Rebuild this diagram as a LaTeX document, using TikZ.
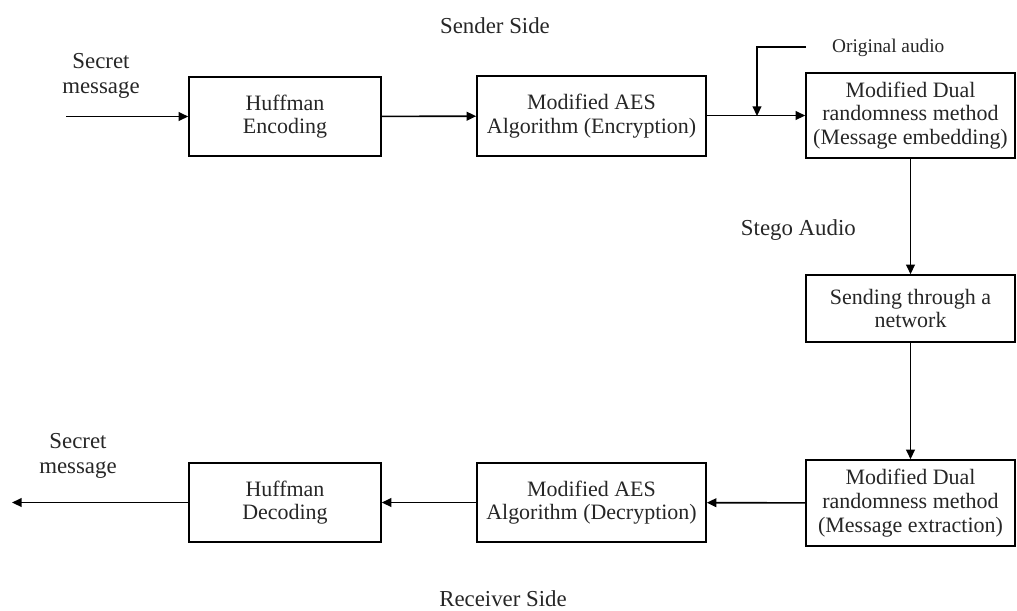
\documentclass[tikz,border=0pt]{standalone}
\usepackage{fontspec}
\setmainfont{Liberation Serif}
\usepackage{tikz}
\usetikzlibrary{arrows.meta,positioning}

\begin{document}
\begin{tikzpicture}[
x=0.02cm, y=-0.02cm,
box/.style={draw, line width=0.9pt, align=center, inner sep=1pt, font=\fontsize{12.5}{13.5}\selectfont, text=black!85},
lbl/.style={align=center, font=\fontsize{13}{14}\selectfont, text=black!85},
small/.style={font=\fontsize{11}{12}\selectfont, text=black!85},
arrow/.style={-{Triangle[length=5.5pt,width=5pt]}, line width=0.9pt}
]
\useasboundingbox (0,0) rectangle (1017,610);
% sender side
\node[box, minimum width=3.84cm, minimum height=1.58cm] (henc) at (285,116.5) {Huffman\\Encoding};
\node[box, minimum width=4.58cm, minimum height=1.6cm] (aenc) at (591.5,116) {Modified AES\\Algorithm (Encryption)};
\node[box, minimum width=4.18cm, minimum height=1.7cm] (emb) at (910.5,115.5) {Modified Dual\\randomness method\\(Message embedding)};
\node[box, minimum width=4.18cm, minimum height=1.34cm] (send) at (910.5,308.5) {Sending through a\\network};
% receiver side
\node[box, minimum width=4.18cm, minimum height=1.72cm] (ext) at (910.5,503) {Modified Dual\\randomness method\\(Message extraction)};
\node[box, minimum width=4.58cm, minimum height=1.58cm] (adec) at (591.5,502.5) {Modified AES\\Algorithm (Decryption)};
\node[box, minimum width=3.84cm, minimum height=1.58cm] (hdec) at (285,502.5) {Huffman\\Decoding};

\node[lbl] (sender) at (495,26) {Sender Side};
\node[lbl] (receiver) at (503,599) {Receiver Side};
\node[lbl] (msgin) at (101,76) {Secret\\message};
\node[lbl] (msgout) at (78,456) {Secret\\message};
\node[lbl, anchor=east] (stego) at (862,230) {Stego Audio};
\node[small, anchor=west] (orig) at (826,48) {Original audio};

\coordinate (in) at (66,116.5);
\coordinate (out) at (12,502.5);
\coordinate (oa) at (806,47);
\coordinate (join) at (757,116);

\draw[arrow] (in) -- (henc);
\draw[arrow] (henc) -- (aenc);
\draw[arrow] (aenc.east |- emb.west) -- (emb.west);
\draw[arrow] (oa) -| (join);
\draw[arrow] (emb) -- (send);
\draw[arrow] (send) -- (ext);
\draw[arrow] (ext) -- (adec);
\draw[arrow] (adec) -- (hdec);
\draw[arrow] (hdec) -- (out);
\end{tikzpicture}
\end{document}
